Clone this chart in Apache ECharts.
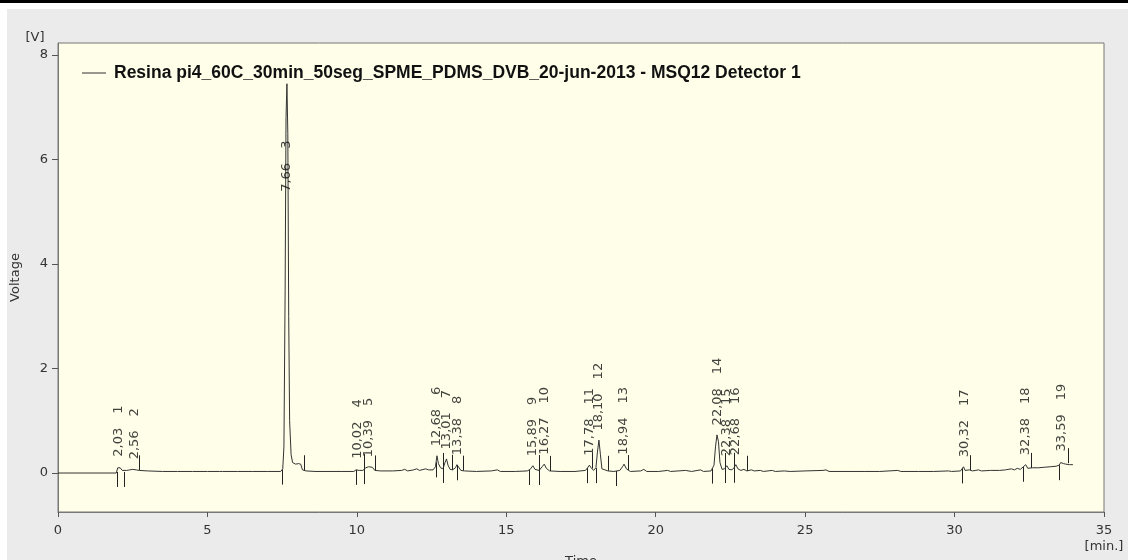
<!DOCTYPE html>
<html><head><meta charset="utf-8">
<script src="https://cdn.jsdelivr.net/npm/echarts@6/dist/echarts.min.js"></script>
<style>html,body{margin:0;padding:0;background:#fff}#c{width:1128px;height:560px}</style>
</head><body><div id="c"></div>
<script>
const seriesName = 'Resina pi4_60C_30min_50seg_SPME_PDMS_DVB_20-jun-2013 - MSQ12 Detector 1';
const xTicks = [0, 5, 10, 15, 20, 25, 30, 35];
const yTicks = [0, 2, 4, 6, 8];

// chromatogram trace [time (min), voltage (V)]
const trace = [
  [0,0],[1.95,0],[1.98,0.02],[2.0,0.1],[2.03,0.13],[2.08,0.1],[2.15,0.05],[2.21,0.02],[2.3,0.05],[2.4,0.06],
  [2.5,0.07],[2.56,0.08],[2.62,0.06],[2.72,0.05],[3.0,0.04],[3.5,0.03],[4.0,0.03],[4.5,0.03],[5.0,0.03],
  [5.4,0.03],[5.45,0.06],[5.5,0.03],[6.0,0.03],[6.5,0.03],[7.0,0.03],[7.45,0.03],[7.52,0.08],[7.56,0.5],
  [7.6,3.5],[7.63,6.8],[7.66,7.45],[7.69,6.5],[7.72,3.0],[7.75,1.0],[7.8,0.35],[7.85,0.2],[7.95,0.17],
  [8.05,0.18],[8.12,0.17],[8.18,0.06],[8.3,0.04],[8.6,0.03],[9.0,0.03],[9.5,0.03],[9.9,0.03],[9.97,0.06],
  [10.02,0.09],[10.08,0.05],[10.2,0.05],[10.3,0.1],[10.39,0.12],[10.45,0.1],[10.52,0.11],[10.6,0.05],
  [10.8,0.04],[11.2,0.04],[11.5,0.05],[11.6,0.07],[11.7,0.04],[11.9,0.06],[12.0,0.08],[12.1,0.05],
  [12.3,0.08],[12.4,0.06],[12.55,0.06],[12.63,0.12],[12.68,0.33],[12.73,0.18],[12.8,0.1],[12.88,0.08],
  [12.95,0.2],[13.0,0.27],[13.05,0.15],[13.12,0.07],[13.2,0.06],[13.3,0.1],[13.35,0.16],[13.4,0.14],
  [13.48,0.05],[13.6,0.04],[14.0,0.03],[14.5,0.04],[14.7,0.06],[14.8,0.03],[15.3,0.03],[15.7,0.04],
  [15.8,0.07],[15.89,0.14],[15.96,0.07],[16.1,0.05],[16.2,0.12],[16.27,0.17],[16.34,0.09],[16.45,0.04],
  [16.8,0.03],[17.3,0.03],[17.65,0.05],[17.72,0.1],[17.78,0.15],[17.84,0.1],[17.92,0.05],[18.0,0.1],
  [18.05,0.4],[18.1,0.63],[18.15,0.35],[18.2,0.08],[18.3,0.06],[18.4,0.04],[18.6,0.03],[18.8,0.05],
  [18.9,0.13],[18.94,0.17],[19.02,0.08],[19.15,0.03],[19.5,0.04],[19.6,0.07],[19.7,0.03],[20.1,0.03],
  [20.4,0.05],[20.5,0.03],[21.0,0.05],[21.2,0.03],[21.5,0.06],[21.6,0.03],[21.85,0.04],[21.95,0.15],
  [22.0,0.5],[22.05,0.73],[22.1,0.6],[22.15,0.2],[22.22,0.07],[22.3,0.08],[22.38,0.14],[22.45,0.07],
  [22.55,0.06],[22.62,0.1],[22.68,0.16],[22.75,0.08],[22.85,0.05],[22.95,0.07],[23.05,0.04],[23.2,0.06],
  [23.3,0.04],[23.5,0.05],[23.6,0.03],[23.9,0.05],[24.0,0.03],[24.3,0.04],[24.5,0.03],[25.0,0.04],
  [25.6,0.05],[25.7,0.06],[25.8,0.03],[26.5,0.03],[27.0,0.03],[27.5,0.03],[28.1,0.05],[28.2,0.03],
  [28.8,0.03],[29.3,0.03],[29.8,0.04],[29.9,0.03],[30.2,0.04],[30.3,0.12],[30.35,0.05],[30.5,0.06],
  [30.6,0.04],[30.8,0.06],[30.9,0.04],[31.2,0.05],[31.5,0.05],[31.7,0.06],[31.9,0.08],[32.0,0.06],
  [32.1,0.09],[32.2,0.07],[32.3,0.12],[32.38,0.16],[32.45,0.09],[32.6,0.1],[32.8,0.1],[33.0,0.11],
  [33.2,0.12],[33.4,0.13],[33.5,0.15],[33.55,0.2],[33.6,0.23],[33.65,0.18],[33.72,0.17],[33.78,0.2],
  [33.85,0.16],[33.9,0.19],[33.96,0.16]
];

const peakNumbers = [1, 2, 3, 4, 5, 6, 7, 8, 9, 10, 11, 12, 13, 14, 15, 16, 17, 18, 19];
const peakTimes = [2.03, 2.56, 7.66, 10.02, 10.39, 12.68, 13.01, 13.38, 15.89, 16.27, 17.78, 18.10, 18.94, 22.08, 22.38, 22.68, 30.32, 32.38, 33.59];
const peakHeights = [0.13, 0.08, 7.45, 0.09, 0.12, 0.33, 0.27, 0.16, 0.14, 0.17, 0.15, 0.63, 0.17, 0.73, 0.14, 0.16, 0.12, 0.16, 0.23];
const peakStartMarks = [1.98, 2.21, 7.50, 9.97, 10.25, 12.65, 12.89, 13.34, 15.76, 16.11, 17.71, 17.99, 18.68, 21.89, 22.32, 22.62, 30.26, 32.30, 33.50];
const peakEndMarks = [2.70, 8.22, 10.25, 10.62, 12.89, 13.19, 13.54, 16.11, 16.46, 17.86, 18.39, 19.08, 22.32, 22.62, 23.04, 30.53, 32.56, 33.80];

function traceAt(t) {
  for (let i = 1; i < trace.length; i++) {
    if (trace[i][0] >= t) {
      const a = trace[i - 1], b = trace[i];
      return a[1] + (b[1] - a[1]) * (t - a[0]) / (b[0] - a[0]);
    }
  }
  return trace[trace.length - 1][1];
}

const markerData = peakStartMarks.map(t => [t, traceAt(t), 1])
  .concat(peakEndMarks.map(t => [t, traceAt(t), -1]));
const labelData = peakTimes.map((t, i) => [t, Math.min(peakHeights[i], 5.2), i]);

const FONT = 'DejaVu Sans';
const chart = echarts.init(document.getElementById('c'), null, {renderer: 'canvas'});
chart.setOption({
  animation: false,
  backgroundColor: '#ffffff',
  graphic: [
    {type: 'rect', z: -100, shape: {x: 7, y: 9, width: 1121, height: 551}, style: {fill: '#ebebeb'}},
    {type: 'rect', z: -100, shape: {x: 0, y: 0, width: 1128, height: 3}, style: {fill: '#000'}},
    {type: 'text', x: 35, y: 38, style: {text: '[V]', font: '13px "DejaVu Sans"', fill: '#333', align: 'center', verticalAlign: 'middle'}},
    {type: 'text', x: 1104, y: 547, style: {text: '[min.]', font: '13px "DejaVu Sans"', fill: '#333', align: 'center', verticalAlign: 'middle'}}
  ],
  grid: {left: 58, right: 24, top: 43, bottom: 48, outerBoundsMode: 'none', containLabel: false,
    show: true, backgroundColor: '#fefee9', borderColor: '#777', borderWidth: 1},
  legend: {
    left: 77, top: 59, icon: 'rect', itemWidth: 24, itemHeight: 1, itemGap: 10,
    data: [seriesName],
    textStyle: {fontFamily: 'Liberation Sans', fontWeight: 'bold', fontSize: 17.5, color: '#111', padding: [0, 0, 0, 3]}
  },
  xAxis: {
    type: 'value', min: 0, max: 35, interval: 5,
    name: 'Time', nameLocation: 'middle', nameGap: 43,
    nameTextStyle: {fontFamily: FONT, fontSize: 13, color: '#333'},
    axisLine: {show: true, onZero: false, lineStyle: {color: '#777'}},
    axisTick: {show: true, length: 5, lineStyle: {color: '#555'}},
    axisLabel: {fontFamily: FONT, fontSize: 13, color: '#333', margin: 12, customValues: xTicks},
    splitLine: {show: false}
  },
  yAxis: {
    type: 'value', min: -0.746, max: 8.23,
    name: 'Voltage', nameLocation: 'middle', nameGap: 36, nameRotate: 90,
    nameTextStyle: {fontFamily: FONT, fontSize: 13, color: '#333'},
    axisLine: {show: true, onZero: false, lineStyle: {color: '#777'}},
    axisTick: {show: true, length: 6, customValues: yTicks, lineStyle: {color: '#555'}},
    axisLabel: {fontFamily: FONT, fontSize: 13, color: '#333', margin: 10, customValues: yTicks},
    splitLine: {show: false}
  },
  series: [
    {
      name: seriesName, type: 'line', data: trace, showSymbol: false, symbol: 'none',
      lineStyle: {color: '#333', width: 1}, itemStyle: {color: '#333'}, silent: true, z: 3
    },
    {
      type: 'custom', data: markerData, silent: true, z: 4,
      renderItem: function (params, api) {
        const p = api.coord([api.value(0), api.value(1)]);
        const x = Math.round(p[0]) + 0.5;
        return {type: 'line', shape: {x1: x, y1: p[1], x2: x, y2: p[1] + api.value(2) * 15},
          style: {stroke: '#222', lineWidth: 1}};
      }
    },
    {
      type: 'scatter', data: labelData, symbolSize: 1, itemStyle: {color: 'rgba(0,0,0,0)'}, silent: true, z: 5,
      label: {
        show: true, position: 'top', distance: 9, rotate: 90, align: 'left', verticalAlign: 'middle',
        formatter: function (p) {
          const i = p.value[2];
          return '{t|' + peakTimes[i].toFixed(2).replace('.', ',') + '}{g|}{n|' + peakNumbers[i] + '}';
        },
        rich: {
          t: {fontFamily: FONT, fontSize: 13, color: '#111'},
          g: {width: 14},
          n: {fontFamily: FONT, fontSize: 13, color: '#111'}
        }
      },
      labelLayout: {hideOverlap: false}
    }
  ]
});
</script></body></html>
